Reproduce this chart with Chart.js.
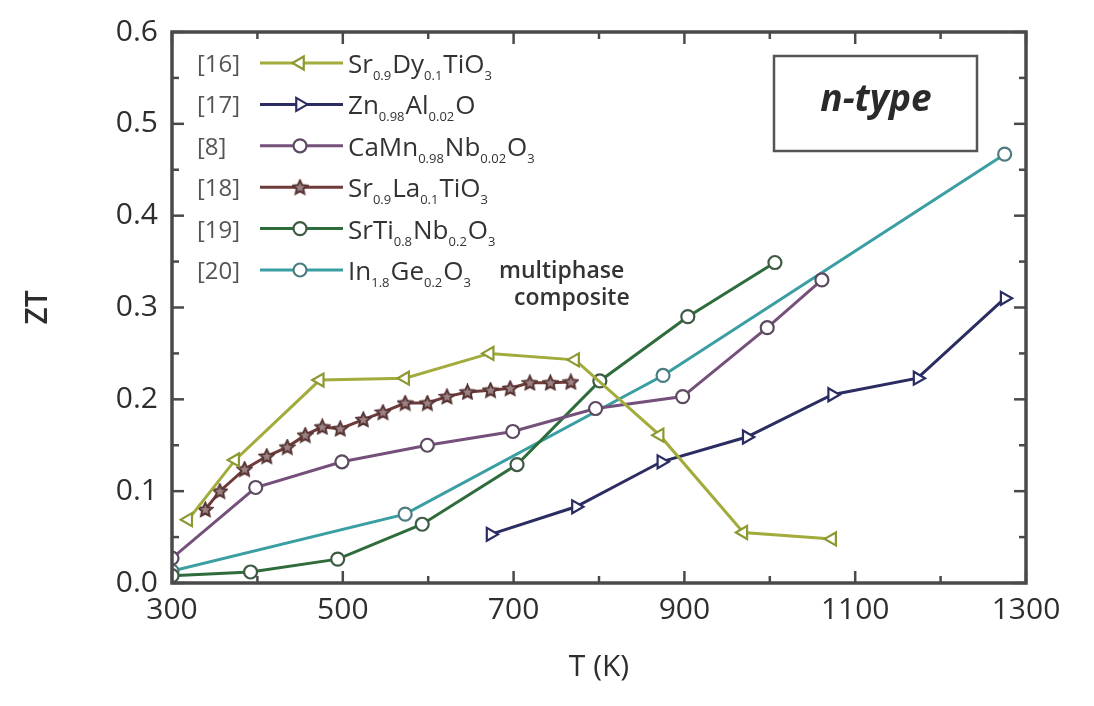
<!DOCTYPE html>
<html>
<head>
<meta charset="utf-8">
<script src="https://cdn.jsdelivr.net/npm/chart.js@4.4.1/dist/chart.umd.min.js"></script>
<style>
  html, body { margin: 0; padding: 0; background: #fff; }
</style>
</head>
<body>
<canvas id="chart" width="1094" height="706"></canvas>
<script>
"use strict";

// Sr0.9Dy0.1TiO3 [16]
const tDy  = [319, 374, 473, 573, 672, 772, 871, 969, 1073];
const ztDy = [0.069, 0.134, 0.221, 0.223, 0.250, 0.243, 0.161, 0.055, 0.048];

// Zn0.98Al0.02O [17]
const tZn  = [673, 773, 873, 973, 1073, 1173, 1275];
const ztZn = [0.053, 0.083, 0.132, 0.159, 0.205, 0.223, 0.310];

// CaMn0.98Nb0.02O3 [8]
const tCa  = [300, 398, 499, 599, 699, 796, 898, 997, 1061];
const ztCa = [0.027, 0.104, 0.132, 0.150, 0.165, 0.190, 0.203, 0.278, 0.330];

// Sr0.9La0.1TiO3 [18]
const tLa  = [339, 356, 385, 411, 435, 456, 476, 497, 524, 547, 573, 599, 622, 646, 673, 696, 719, 743, 767];
const ztLa = [0.080, 0.100, 0.124, 0.138, 0.148, 0.161, 0.170, 0.168, 0.178, 0.186, 0.196, 0.196,
              0.203, 0.208, 0.210, 0.212, 0.218, 0.218, 0.219];

// SrTi0.8Nb0.2O3 [19]
const tNb  = [300, 392, 494, 593, 704, 801, 904, 1006];
const ztNb = [0.008, 0.012, 0.026, 0.064, 0.129, 0.220, 0.290, 0.349];

// In1.8Ge0.2O3 multiphase composite [20]
const tIn  = [300, 573, 875, 1275];
const ztIn = [0.013, 0.075, 0.226, 0.467];

const refs = ['[16]', '[17]', '[8]', '[18]', '[19]', '[20]'];
// formula pieces: [text, subscript?]
const formulas = [
  [['Sr', 0], ['0.9', 1], ['Dy', 0], ['0.1', 1], ['TiO', 0], ['3', 1]],
  [['Zn', 0], ['0.98', 1], ['Al', 0], ['0.02', 1], ['O', 0]],
  [['CaMn', 0], ['0.98', 1], ['Nb', 0], ['0.02', 1], ['O', 0], ['3', 1]],
  [['Sr', 0], ['0.9', 1], ['La', 0], ['0.1', 1], ['TiO', 0], ['3', 1]],
  [['SrTi', 0], ['0.8', 1], ['Nb', 0], ['0.2', 1], ['O', 0], ['3', 1]],
  [['In', 0], ['1.8', 1], ['Ge', 0], ['0.2', 1], ['O', 0], ['3', 1]]
];

const xTicks = [300, 500, 700, 900, 1100, 1300];

const FONT = '"Open Sans", "DejaVu Sans", sans-serif';

// five-pointed star marker
function makeStar(size) {
  const c = document.createElement('canvas');
  c.width = size; c.height = size;
  const g = c.getContext('2d');
  const cx = size / 2, cy = size / 2 + 0.5;
  const R = size / 2 - 1.2, r = R * 0.48;
  g.beginPath();
  for (let i = 0; i < 10; i++) {
    const rad = i % 2 === 0 ? R : r;
    const a = -Math.PI / 2 + i * Math.PI / 5;
    const px = cx + rad * Math.cos(a), py = cy + rad * Math.sin(a);
    if (i === 0) g.moveTo(px, py); else g.lineTo(px, py);
  }
  g.closePath();
  g.fillStyle = '#9c8282';
  g.fill();
  g.lineWidth = 2;
  g.strokeStyle = '#553232';
  g.stroke();
  return c;
}
const star = makeStar(17);

function pts(xs, ys) {
  return xs.map((v, i) => ({x: v, y: ys[i]}));
}

const series = [
  {data: pts(tDy, ztDy), color: '#a2ab3c', mark: '#8e9830', style: 'triangle', rot: -90, r: 7.5},
  {data: pts(tZn, ztZn), color: '#2b2d62', mark: '#2b2d62', style: 'triangle', rot: 90, r: 7.5},
  {data: pts(tCa, ztCa), color: '#74507a', mark: '#5c4a60', style: 'circle', rot: 0, r: 6.5},
  {data: pts(tLa, ztLa), color: '#6e3a3a', mark: '#553232', style: star, rot: 0, r: 8},
  {data: pts(tNb, ztNb), color: '#2f6c3c', mark: '#3f5a44', style: 'circle', rot: 0, r: 6.5},
  {data: pts(tIn, ztIn), color: '#3a9ea2', mark: '#4d7c80', style: 'circle', rot: 0, r: 6.5}
];

const datasets = series.map(s => ({
  data: s.data,
  borderColor: s.color,
  borderWidth: 3,
  pointStyle: s.style,
  pointRotation: s.rot,
  pointRadius: s.r,
  pointBorderWidth: 2.2,
  pointBorderColor: s.mark,
  pointBackgroundColor: '#ffffff',
  tension: 0,
  fill: false
}));

function line(ctx, x1, y1, x2, y2) {
  ctx.beginPath(); ctx.moveTo(x1, y1); ctx.lineTo(x2, y2); ctx.stroke();
}

const frameTicks = {
  id: 'frameTicks',
  afterDraw(chart) {
    const {ctx, chartArea: a, scales: {x, y}} = chart;
    ctx.save();
    ctx.strokeStyle = '#4a4a4a';
    ctx.lineWidth = 2.5;
    for (let v = 300; v <= 1300; v += 100) {
      const px = x.getPixelForValue(v);
      const len = (v - 300) % 200 === 0 ? 12 : 7;
      line(ctx, px, a.bottom, px, a.bottom - len);
      line(ctx, px, a.top, px, a.top + len);
    }
    for (let k = 0; k <= 12; k++) {
      const py = y.getPixelForValue(k * 0.05);
      const len = k % 2 === 0 ? 12 : 7;
      line(ctx, a.left, py, a.left + len, py);
      line(ctx, a.right, py, a.right - len, py);
    }
    ctx.lineWidth = 3.5;
    ctx.strokeStyle = '#4a4a4a';
    ctx.strokeRect(a.left, a.top, a.width, a.height);

    // n-type box
    ctx.lineWidth = 2.5;
    ctx.strokeStyle = '#555';
    ctx.strokeRect(774, 56, 203, 95);
    ctx.fillStyle = '#2a2a2a';
    ctx.font = 'italic bold 37px ' + FONT;
    ctx.textAlign = 'center';
    ctx.textBaseline = 'middle';
    ctx.fillText('n-type', 876, 100);
    ctx.restore();
  }
};

const formulaLegend = {
  id: 'formulaLegend',
  afterDraw(chart) {
    const ctx = chart.ctx;
    ctx.save();
    ctx.textBaseline = 'alphabetic';
    ctx.textAlign = 'left';
    refs.forEach((ref, i) => {
      const cy = 63 + i * 41.4;
      const s = series[i];
      ctx.fillStyle = '#555';
      ctx.font = '24px ' + FONT;
      ctx.fillText(ref, 197, cy + 9);
      ctx.strokeStyle = s.color;
      ctx.lineWidth = 3;
      line(ctx, 260, cy, 343, cy);
      ctx.strokeStyle = s.mark;
      ctx.fillStyle = '#ffffff';
      ctx.lineWidth = 2.2;
      Chart.helpers.drawPoint(ctx, {pointStyle: s.style, radius: s.r, rotation: s.rot, borderWidth: 2.2}, 300, cy);
      let x = 348;
      ctx.fillStyle = '#333';
      formulas[i].forEach(([txt, sub]) => {
        if (sub) {
          ctx.font = '13px ' + FONT;
          ctx.fillText(txt, x, cy + 17);
        } else {
          ctx.font = '26px ' + FONT;
          ctx.fillText(txt, x, cy + 10);
        }
        x += ctx.measureText(txt).width + (sub ? 1 : 0);
      });
    });
    ctx.fillStyle = '#333';
    ctx.font = '600 23px ' + FONT;
    ctx.fillText('multiphase', 499, 63 + 5 * 41.4 + 8);
    ctx.fillText('composite', 514, 63 + 5 * 41.4 + 35);
    ctx.restore();
  }
};

new Chart(document.getElementById('chart'), {
  type: 'line',
  data: {datasets},
  options: {
    responsive: false,
    animation: false,
    layout: {padding: {top: 30, right: 68, left: 0, bottom: 0}},
    plugins: {legend: {display: false}, tooltip: {enabled: false}},
    scales: {
      x: {
        type: 'linear',
        min: 300,
        max: 1300,
        afterFit(scale) { scale.height = 123; },
        afterBuildTicks(scale) { scale.ticks = xTicks.map(v => ({value: v})); },
        grid: {display: false, drawTicks: false},
        border: {display: false},
        ticks: {
          color: '#2e2e2e',
          font: {family: FONT, size: 30},
          padding: 9,
          maxRotation: 0,
          autoSkip: false,
          callback: v => String(v)
        },
        title: {
          display: true,
          text: 'T (K)',
          color: '#2e2e2e',
          font: {family: FONT, size: 30},
          padding: {top: 0, bottom: 21}
        }
      },
      y: {
        min: 0,
        max: 0.6,
        afterFit(scale) { scale.width = 172; },
        grid: {display: false, drawTicks: false},
        border: {display: false},
        ticks: {
          stepSize: 0.1,
          color: '#2e2e2e',
          font: {family: FONT, size: 30},
          padding: 14,
          callback: v => v.toFixed(1)
        },
        title: {
          display: true,
          text: 'ZT',
          color: '#2e2e2e',
          font: {family: FONT, size: 30, weight: '600'},
          padding: {top: 20, bottom: 0}
        }
      }
    }
  },
  plugins: [frameTicks, formulaLegend]
});
</script>
</body>
</html>
